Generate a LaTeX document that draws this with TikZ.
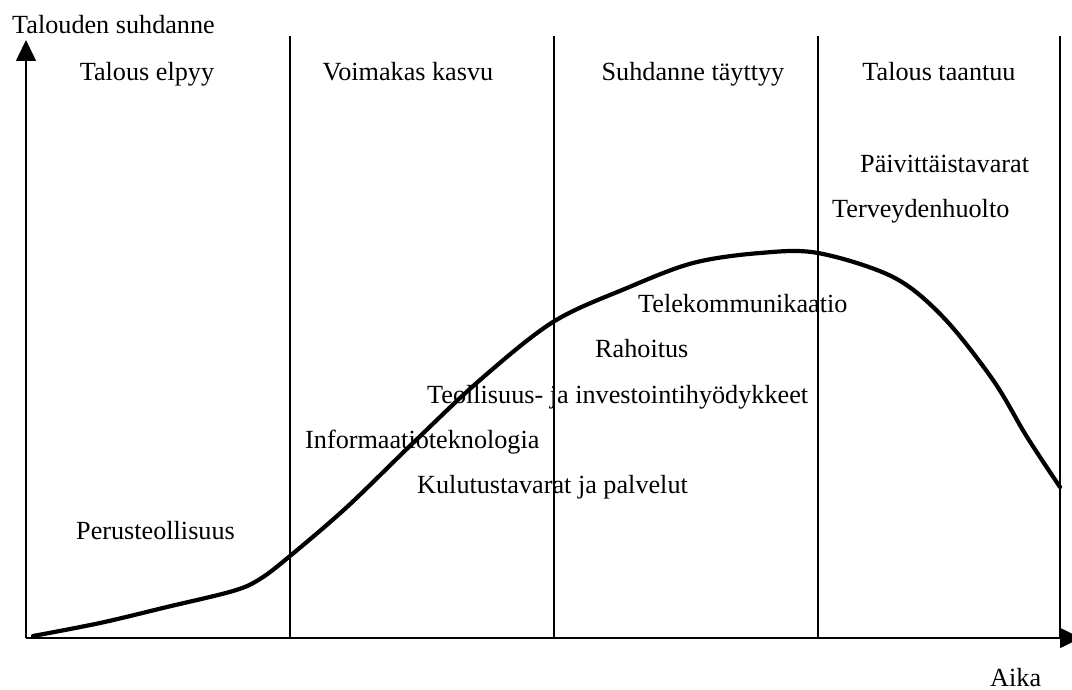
\documentclass[tikz,border=0pt]{standalone}
\usepackage{fontspec}
\setmainfont{Liberation Serif}
\usetikzlibrary{arrows.meta}
\begin{document}
\begin{tikzpicture}[x=1pt,y=-1pt,
  lbl/.style={anchor=base west,inner sep=0pt,font=\fontsize{26.2}{30}\selectfont},
  axis/.style={line width=1.6pt,-{Triangle[length=21pt,width=20pt]}},
  divider/.style={line width=1.6pt},
  cycle/.style={line width=4.2pt,line cap=round,line join=round}]
\useasboundingbox (0,0) rectangle (1072,690);

% axes
\coordinate (O) at (26,638);
\coordinate (ytop) at (26,40);
\coordinate (xend) at (1081,638);
\draw[axis] (O) -- (ytop);
\draw[axis] (O) -- (xend);

% phase dividers
\foreach \x/\n in {290/a,554/b,818/c,1060/d}{
  \coordinate (top\n) at (\x,36);
  \coordinate (bot\n) at (\x,637);
  \draw[divider] (top\n) -- (bot\n);
}

% business cycle curve
\draw[cycle] plot[smooth,tension=0.55] coordinates {
  (33,636) (100,623) (167,607) (233,591) (260,579) (290,556)
  (347,507) (413,443) (480,380) (553,322) (627,288) (693,263)
  (760,253) (818,253) (893,277) (943,317) (993,380) (1027,437) (1060,487)};

% axis titles
\node[lbl] (ytitle) at (12,34) {Talouden suhdanne};
\node[lbl] (xtitle) at (990,686) {Aika};

% phase headings
\node[lbl,anchor=base] (h1) at (147,81) {Talous elpyy};
\node[lbl,anchor=base] (h2) at (408,81) {Voimakas kasvu};
\node[lbl,anchor=base] (h3) at (693,81) {Suhdanne täyttyy};
\node[lbl,anchor=base] (h4) at (939,81) {Talous taantuu};

% sectors
\node[lbl] (s1) at (860,173) {Päivittäistavarat};
\node[lbl] (s2) at (832,218) {Terveydenhuolto};
\node[lbl] (s3) at (638,312) {Telekommunikaatio};
\node[lbl] (s4) at (595,357) {Rahoitus};
\node[lbl] (s5) at (427,403) {Teollisuus- ja investointihyödykkeet};
\node[lbl] (s6) at (305,448) {Informaatioteknologia};
\node[lbl] (s7) at (417,493) {Kulutustavarat ja palvelut};
\node[lbl] (s8) at (76,539) {Perusteollisuus};
\end{tikzpicture}
\end{document}
